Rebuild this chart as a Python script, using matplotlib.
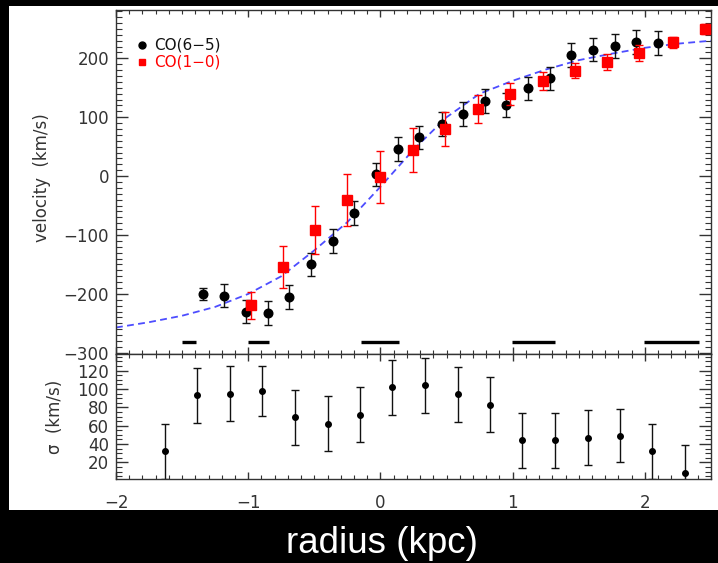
import matplotlib
matplotlib.use("Agg")
import matplotlib.pyplot as plt
from matplotlib.patches import Rectangle
from matplotlib.ticker import MultipleLocator

# CO(6-5) rotation curve
r_co65 = [-1.343, -1.180, -1.016, -0.849, -0.688, -0.522, -0.358, -0.197, -0.030,
          0.131, 0.295, 0.462, 0.623, 0.787, 0.951, 1.115, 1.281, 1.443, 1.607,
          1.773, 1.934, 2.098]
v_co65 = [-200, -203, -230, -232, -205, -150, -110, -63, 3, 46, 66, 89, 106, 128,
          121, 149, 166, 206, 215, 221, 228, 226]
e_co65 = [10, 20, 20, 20, 20, 20, 20, 20, 20, 20, 20, 20, 20, 20, 20, 20, 20,
          20, 20, 20, 20, 20]

# CO(1-0) rotation curve
r_co10 = [-0.980, -0.738, -0.494, -0.250, 0.000, 0.245, 0.487, 0.737, 0.983,
          1.228, 1.473, 1.717, 1.959, 2.209, 2.458]
v_co10 = [-219, -154, -92, -41, -1, 44, 80, 114, 139, 162, 179, 194, 209, 227, 250]
e_co10 = [23, 36, 41, 44, 44, 37, 29, 23, 19, 15, 13, 13, 13, 10, 8]

# model rotation curve
r_model = [-2.0, -1.75, -1.5, -1.25, -1.0, -0.75, -0.5, -0.25, 0.0, 0.25, 0.5,
           0.75, 1.0, 1.25, 1.5, 1.75, 2.0, 2.25, 2.5]
v_model = [-257, -248, -237, -222, -200, -170, -126, -78, -18, 45, 100, 140, 162,
           181, 197, 208, 218, 225, 230]

# horizontal segments near the bottom of the velocity panel
seg_left = [-1.498, -1.003, -0.146, 0.998, 1.995]
seg_right = [-1.392, -0.844, 0.144, 1.319, 2.409]
seg_level = -281

# velocity dispersion
r_sig = [-1.629, -1.384, -1.137, -0.897, -0.648, -0.400, -0.151, 0.091, 0.338,
         0.585, 0.830, 1.074, 1.319, 1.569, 1.810, 2.057, 2.300]
sig = [32, 93, 95, 98, 69, 62, 72, 102, 104, 94, 83, 44, 44, 47, 49, 32, 9]
e_sig = [30, 30, 30, 27, 30, 30, 30, 30, 30, 30, 30, 30, 30, 30, 29, 30, 30]

W, H = 718, 563
fig = plt.figure(figsize=(W / 100, H / 100), dpi=100, facecolor="black")
fig.patches.append(Rectangle((9 / W, 1 - 510 / H), (W - 9) / W, 504 / H,
                             transform=fig.transFigure, facecolor="white",
                             edgecolor="none", zorder=-10))

left, width = 116 / W, 595 / W
ax1 = fig.add_axes([left, 1 - 354 / H, width, 344.5 / H])
ax2 = fig.add_axes([left, 1 - 479 / H, width, 125 / H])

tick_color = "#333333"
for ax in (ax1, ax2):
    ax.set_facecolor("white")
    ax.set_xlim(-2, 2.5)
    ax.xaxis.set_major_locator(MultipleLocator(1))
    ax.xaxis.set_minor_locator(MultipleLocator(0.1))
    for s in ax.spines.values():
        s.set_color(tick_color)
        s.set_linewidth(1.0)
    ax.tick_params(which="both", direction="in", top=True, right=True,
                   color=tick_color, labelcolor=tick_color, labelsize=12)
    ax.tick_params(axis="x", which="major", length=5, width=1.0, pad=11)
    ax.tick_params(axis="x", which="minor", length=3, width=0.8)
    ax.tick_params(axis="y", which="major", length=8.6, width=1.0, pad=5)
    ax.tick_params(axis="y", which="minor", length=4.3, width=0.8)

# velocity panel
ax1.set_ylim(-302, 283)
ax1.yaxis.set_major_locator(MultipleLocator(100))
ax1.yaxis.set_minor_locator(MultipleLocator(10))
ax1.tick_params(axis="x", labelbottom=False)

ax1.plot(r_model, v_model, color=(0.3, 0.3, 1.0), lw=1.3,
         linestyle=(0, (3.8, 2.4)), zorder=2)
ax1.hlines([seg_level] * len(seg_left), seg_left, seg_right, color="black",
           lw=2.4, zorder=2)
ax1.errorbar(r_co65, v_co65, yerr=e_co65, fmt="o", color="black", ms=6.2,
             ecolor="#111111", elinewidth=1.0, capsize=3, capthick=1.0, zorder=3)
ax1.errorbar(r_co10, v_co10, yerr=e_co10, fmt="s", color="red", ms=6.5,
             ecolor="red", elinewidth=1.0, capsize=3, capthick=1.0, zorder=4)

# legend
ax1.plot([0.0432], [0.897], "o", color="black", ms=5, transform=ax1.transAxes)
ax1.plot([0.0432], [0.8467], "s", color="red", ms=5, transform=ax1.transAxes)
ax1.text(0.0644, 0.897, "CO(6\u22125)", color="#111111", fontsize=11,
         va="center", ha="left", transform=ax1.transAxes)
ax1.text(0.0644, 0.8467, "CO(1\u22120)", color="red", fontsize=11,
         va="center", ha="left", transform=ax1.transAxes)

# dispersion panel
ax2.set_ylim(2, 138)
ax2.yaxis.set_major_locator(MultipleLocator(20))
ax2.yaxis.set_minor_locator(MultipleLocator(5))
ax2.set_yticks([20, 40, 60, 80, 100, 120])
ax2.errorbar(r_sig, sig, yerr=e_sig, fmt="o", color="black", ms=4,
             ecolor="#111111", elinewidth=1.0, capsize=3, capthick=1.0)

fig.text(42 / W, 1 - 178 / H, "velocity  (km/s)", rotation=90, ha="center",
         va="center", fontsize=12, color=tick_color)
fig.text(55 / W, 1 - 417 / H, "\u03c3  (km/s)", rotation=90, ha="center",
         va="center", fontsize=12, color=tick_color)
fig.text(382 / W, 1 - 553 / H, "radius (kpc)", ha="center", va="baseline",
         fontsize=26.5, color="white", family="Liberation Sans")

fig.savefig("out.png", dpi=100, facecolor="black")
